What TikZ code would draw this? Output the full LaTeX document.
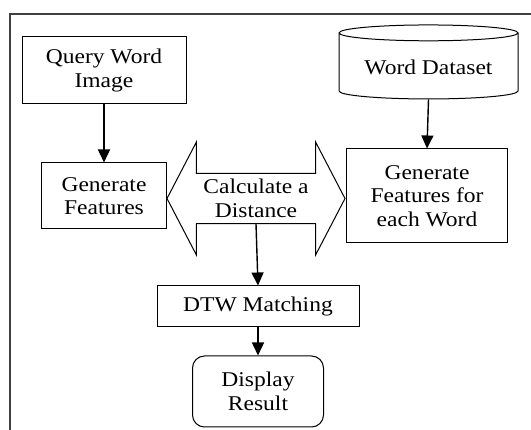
\documentclass[tikz,border=0pt]{standalone}
\usepackage{fontspec}
\setmainfont{Liberation Serif}[FakeStretch=1.12]
\usetikzlibrary{arrows.meta,shapes.geometric,shapes.arrows}
\tikzset{
  blk/.style={draw, line width=1pt, align=center, inner sep=2pt},
  flow/.style={-{Triangle[length=13pt,width=12pt]}, line width=1.4pt},
}
\begin{document}
\begin{tikzpicture}[x=1pt,y=-1pt, font=\fontsize{21}{23.5}\selectfont]
  \useasboundingbox (0,0) rectangle (531,430);
  % frame
  \draw[line width=1.2pt, black!75] (10,431) -- (10,14) -- (532,14);
  % blocks
  \node[blk, minimum width=164, minimum height=67] (query) at (104,70.5) {Query Word\\Image};
  \node[blk, cylinder, shape border rotate=90, aspect=0.12,
        minimum width=179, minimum height=74] (data) at (428.5,67) {Word Dataset};
  \node[blk, minimum width=125, minimum height=66] (genq) at (104,196) {Generate\\Features};
  \node[blk, minimum width=161, minimum height=94] (genw) at (427,196) {Generate\\Features for\\each Word};
  \node[blk, double arrow, double arrow head extend=27, double arrow tip angle=125,
        minimum height=178, minimum width=113] (calc) at (256,198.5) {Calculate a\\Distance};
  \node[blk, minimum width=202, minimum height=41] (dtw) at (258,306.5) {DTW Matching};
  \node[blk, rounded corners=12, minimum width=131, minimum height=71] (disp) at (258,391.5) {Display\\Result};
  % connectors
  \draw[flow] (query) -- (genq);
  \draw[flow] (data.south) -- (genw.north);
  \draw[flow] (calc.south) -- (dtw.north);
  \draw[flow] (dtw) -- (disp);
\end{tikzpicture}
\end{document}
